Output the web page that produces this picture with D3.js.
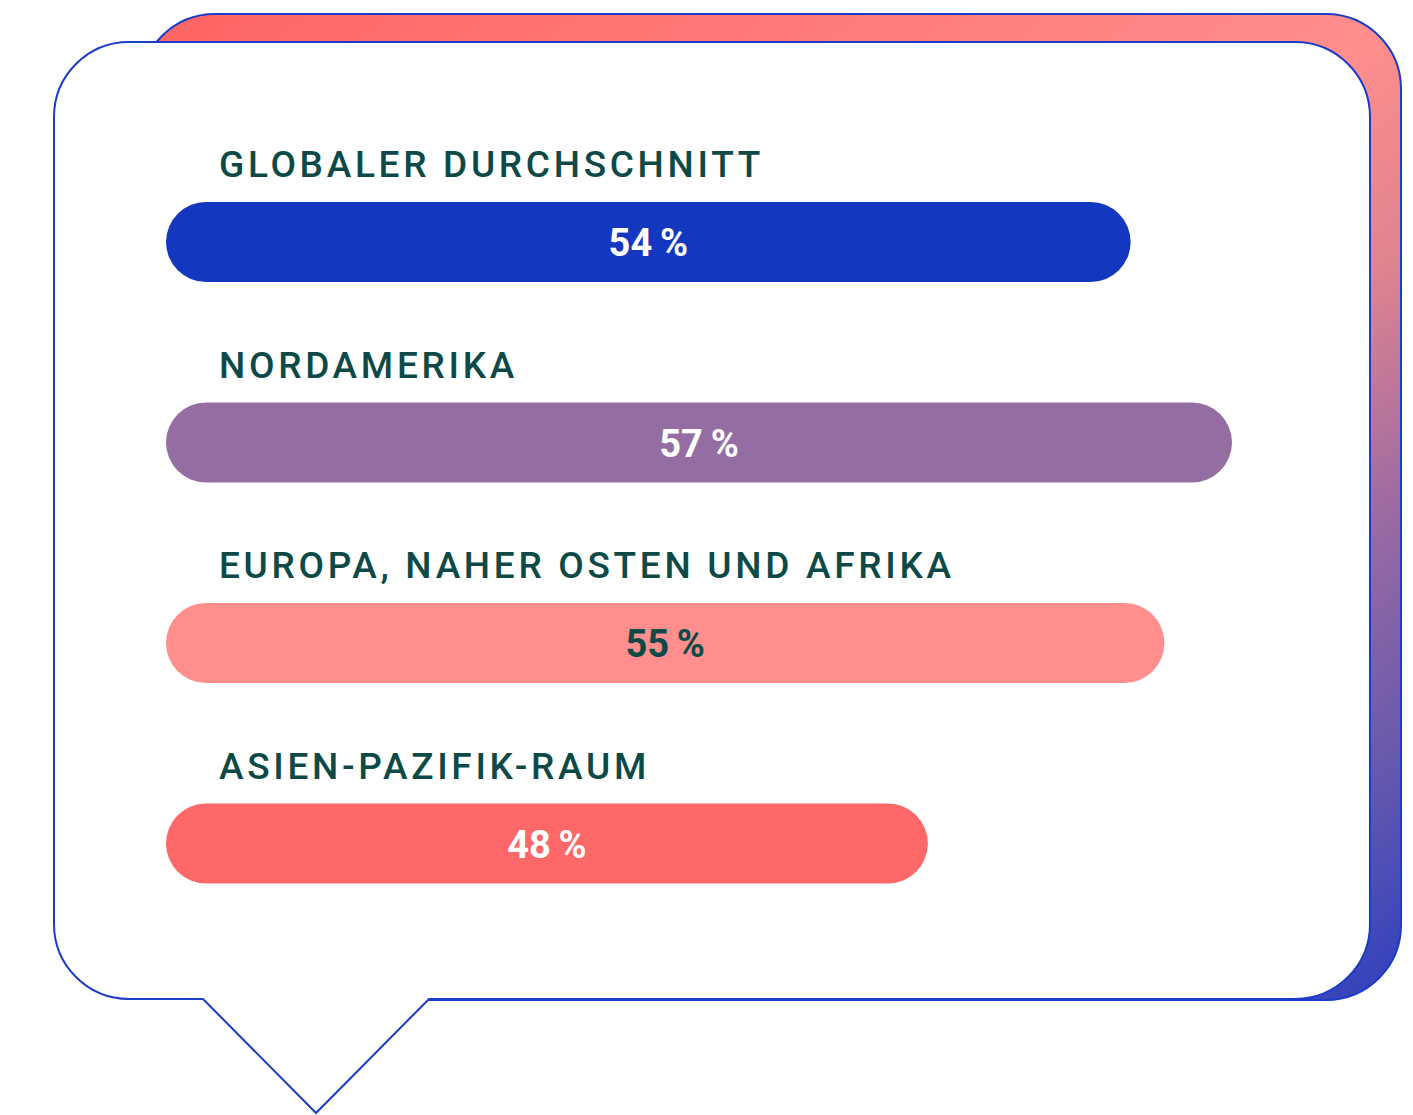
<!DOCTYPE html>
<html>
<head>
<meta charset="utf-8">
<script src="https://cdn.jsdelivr.net/npm/d3@7"></script>
<style>
  html, body { margin: 0; padding: 0; background: #fff; }
  svg { display: block; }
</style>
</head>
<body>
<div id="chart"></div>
<script>
const regions = ['GLOBALER DURCHSCHNITT', 'NORDAMERIKA', 'EUROPA, NAHER OSTEN UND AFRIKA', 'ASIEN-PAZIFIK-RAUM'];
const shares = [54, 57, 55, 48];
const barColors = ['#1437c0', '#946ea3', '#ff8e8c', '#ff6868'];
const valueColors = ['#ffffff', '#ffffff', '#0d4a47', '#ffffff'];

const W = 1413, H = 1115;
const stroke = '#1a3cc8';

const svg = d3.select('#chart').append('svg').attr('width', W).attr('height', H);

// gradient for the shadow card
const grad = svg.append('defs').append('linearGradient')
    .attr('id', 'shadowGrad').attr('x1', 0).attr('y1', 0).attr('x2', 1).attr('y2', 1);
[[0, '#ff6464'], [0.5, '#ff8e8c'], [0.62, '#e0848f'], [0.75, '#9a6aa3'], [0.88, '#6458ad'], [1, '#2d3fbf']]
    .forEach(s => grad.append('stop').attr('offset', s[0]).attr('stop-color', s[1]));

// shadow card behind
svg.append('rect')
    .attr('x', 140).attr('y', 14).attr('width', 1261).attr('height', 986)
    .attr('rx', 75).attr('ry', 75)
    .attr('fill', 'url(#shadowGrad)').attr('stroke', stroke).attr('stroke-width', 2);

// speech bubble
const L = 54, T = 42, R = 1370, B = 999, r = 75;
const bubble = d3.path();
bubble.moveTo(L + r, T);
bubble.lineTo(R - r, T);
bubble.arcTo(R, T, R, T + r, r);
bubble.lineTo(R, B - r);
bubble.arcTo(R, B, R - r, B, r);
bubble.lineTo(429, B);
bubble.lineTo(316, 1113);
bubble.lineTo(203, B);
bubble.lineTo(L + r, B);
bubble.arcTo(L, B, L, B - r, r);
bubble.lineTo(L, T + r);
bubble.arcTo(L, T, L + r, T, r);
bubble.closePath();
svg.append('path').attr('d', bubble.toString())
    .attr('fill', '#fff').attr('stroke', stroke).attr('stroke-width', 2);

// scales
const y = d3.scaleBand().domain(regions).range([142, 944]);
const x = d3.scaleLinear().domain([25.45, 57]).range([166, 1232]);
const barH = 80;

const rows = svg.selectAll('.row').data(regions).enter().append('g')
    .attr('class', 'row')
    .attr('transform', d => `translate(0,${y(d)})`);

rows.append('text')
    .attr('x', 219).attr('y', 35)
    .attr('font-family', 'Roboto, "Noto Sans", sans-serif')
    .attr('font-weight', 500).attr('font-size', '37px')
    .attr('letter-spacing', '3.7px')
    .attr('fill', '#0d4a47')
    .text(d => d);

rows.append('rect')
    .attr('x', x.range()[0]).attr('y', 60)
    .attr('width', (d, i) => x(shares[i]) - x.range()[0])
    .attr('height', barH).attr('rx', barH / 2)
    .attr('fill', (d, i) => barColors[i]);

rows.append('text')
    .attr('x', (d, i) => (x.range()[0] + x(shares[i])) / 2)
    .attr('y', 60 + barH / 2 + 14)
    .attr('text-anchor', 'middle')
    .attr('font-family', 'Roboto, "Noto Sans", sans-serif')
    .attr('font-weight', 700).attr('font-size', '38px')
    .attr('fill', (d, i) => valueColors[i])
    .text((d, i) => shares[i] + '\u2009%');
</script>
</body>
</html>
